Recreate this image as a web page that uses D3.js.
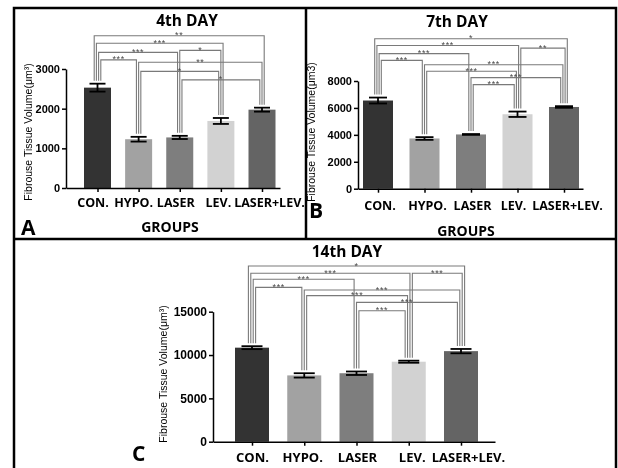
<!DOCTYPE html>
<html>
<head>
<script src="https://d3js.org/d3.v7.min.js"></script>
<style>
  body { margin: 0; background: #fff; }
  svg { filter: grayscale(1); }
</style>
</head>
<body>
<svg width="618" height="468"></svg>
<script>
const groups = ["CON.", "HYPO.", "LASER", "LEV.", "LASER+LEV."];
const barColors = ["#333333", "#a2a2a2", "#7e7e7e", "#d2d2d2", "#646464"];

// 4th day
const day4Mean = [2530, 1230, 1275, 1690, 1975];
const day4Err = [100, 60, 40, 75, 50];
const day4Ticks = [0, 1000, 2000, 3000];
// [from, to, bracket height (data units), stars]
const day4Sig = [
  [0, 4, 3840, "**"],
  [0, 3, 3650, "***"],
  [0, 2, 3420, "***"],
  [2, 3, 3470, "*"],
  [0, 1, 3230, "***"],
  [1, 4, 3170, "**"],
  [1, 3, 2940, "*"],
  [2, 4, 2725, "*"]
];

// 7th day
const day7Mean = [6550, 3730, 4030, 5530, 6070];
const day7Err = [220, 100, 30, 200, 60];
const day7Ticks = [0, 2000, 4000, 6000, 8000];
const day7Sig = [
  [0, 4, 11140, "*"],
  [0, 3, 10640, "***"],
  [3, 4, 10440, "**"],
  [0, 2, 10030, "***"],
  [0, 1, 9530, "***"],
  [1, 4, 9210, "***"],
  [1, 3, 8720, "***"],
  [2, 4, 8250, "***"],
  [2, 3, 7730, "***"]
];

// 14th day
const day14Mean = [10850, 7650, 7900, 9230, 10450];
const day14Err = [170, 250, 200, 120, 250];
const day14Ticks = [0, 5000, 10000, 15000];
const day14Sig = [
  [0, 4, 20270, "*"],
  [0, 3, 19430, "***"],
  [3, 4, 19430, "***"],
  [0, 2, 18740, "***"],
  [0, 1, 17810, "***"],
  [1, 4, 17500, "***"],
  [1, 3, 16850, "***"],
  [2, 4, 16080, "***"],
  [2, 3, 15110, "***"]
];

const svg = d3.select("svg");
const labelFont = "'Open Sans', 'DejaVu Sans', sans-serif";
const axisFont = "'Liberation Sans', Arial, sans-serif";

// panel frames
svg.append("path")
  .attr("d", "M14,468V8H616V468M306,8V239M14,239H616")
  .attr("fill", "none")
  .attr("stroke", "#000")
  .attr("stroke-width", 2.5);

function drawPanel(p) {
  const n = groups.length;
  const step = (p.c1 - p.c0) / (n - 1);
  const span = p.axisR - p.axisL;
  const x = d3.scalePoint()
    .domain(groups)
    .range([p.axisL, p.axisR])
    .padding((span / step - (n - 1)) / 2)
    .align((p.c0 - p.axisL) / (span - (p.c1 - p.c0)));
  const y = d3.scaleLinear()
    .domain([0, d3.max(p.ticks)])
    .range([p.y0, p.yTop]);

  const rows = groups.map((name, i) => ({ name: name, mean: p.mean[i], err: p.err[i], color: barColors[i] }));
  const g = svg.append("g");

  g.selectAll("rect")
    .data(rows)
    .join("rect")
    .attr("x", d => x(d.name) - p.barW / 2)
    .attr("y", d => y(d.mean))
    .attr("width", p.barW)
    .attr("height", d => y(0) - y(d.mean))
    .attr("fill", d => d.color);

  // error bars
  const eb = g.append("g")
    .attr("stroke", "#000")
    .attr("stroke-width", 1.8)
    .selectAll("g")
    .data(rows)
    .join("g");
  eb.append("line")
    .attr("x1", d => x(d.name)).attr("x2", d => x(d.name))
    .attr("y1", d => y(d.mean - d.err)).attr("y2", d => y(d.mean + d.err));
  [-1, 1].forEach(s => {
    eb.append("line")
      .attr("x1", d => x(d.name) - p.capW / 2).attr("x2", d => x(d.name) + p.capW / 2)
      .attr("y1", d => y(d.mean + s * d.err)).attr("y2", d => y(d.mean + s * d.err));
  });

  // significance brackets
  const sig = p.sig.map(s => ({ a: s[0], b: s[1], level: s[2], label: s[3] }));
  groups.forEach((name, i) => {
    const rightEnds = sig.filter(s => s.b === i).sort((u, v) => u.level - v.level);
    const leftEnds = sig.filter(s => s.a === i).sort((u, v) => v.level - u.level);
    const all = rightEnds.map(s => ({ s: s, side: "xb" })).concat(leftEnds.map(s => ({ s: s, side: "xa" })));
    all.forEach((e, k) => { e.s[e.side] = x(name) + (k - (all.length - 1) / 2) * p.gap; });
  });
  const top = i => y(p.mean[i] + p.err[i]) - 3;

  const br = g.append("g");
  br.selectAll("path")
    .data(sig)
    .join("path")
    .attr("d", d => "M" + d.xa + "," + top(d.a) + "V" + y(d.level) + "H" + d.xb + "V" + top(d.b))
    .attr("fill", "none")
    .attr("stroke", "#7a7a7a")
    .attr("stroke-width", 1.1);
  br.selectAll("text")
    .data(sig)
    .join("text")
    .attr("x", d => (d.xa + d.xb) / 2)
    .attr("y", d => y(d.level) + 2.5)
    .attr("text-anchor", "middle")
    .attr("font-family", axisFont)
    .attr("font-size", 9)
    .attr("letter-spacing", 0.6)
    .attr("fill", "#4a4a4a")
    .text(d => d.label);

  // axes
  const yAxis = g.append("g")
    .attr("transform", "translate(" + p.axisL + ",0)")
    .call(d3.axisLeft(y).tickValues(p.ticks).tickFormat(d3.format("d"))
      .tickSize(4).tickPadding(2).tickSizeOuter(0));
  yAxis.selectAll(".domain, .tick line").attr("stroke-width", 1.5);
  yAxis.selectAll("text")
    .attr("font-family", axisFont)
    .attr("font-weight", "bold")
    .attr("font-size", p.tickFont);

  const xAxis = g.append("g")
    .attr("transform", "translate(0," + p.y0 + ")")
    .call(d3.axisBottom(x).tickSize(4).tickPadding(p.labelPad).tickSizeOuter(0));
  xAxis.selectAll(".domain, .tick line").attr("stroke-width", 1.5);
  xAxis.selectAll("text")
    .attr("dx", (d, i) => p.labelShift[i])
    .attr("font-family", labelFont)
    .attr("font-weight", "bold")
    .attr("font-size", p.labelSize);

  // texts
  g.append("text")
    .attr("x", p.titleX).attr("y", p.titleY)
    .attr("text-anchor", "middle")
    .attr("font-family", labelFont).attr("font-weight", "bold").attr("font-size", 15.5)
    .text(p.title);
  if (p.groupsX) {
    g.append("text")
      .attr("x", p.groupsX).attr("y", p.groupsY)
      .attr("text-anchor", "middle")
      .attr("font-family", labelFont).attr("font-weight", "bold").attr("font-size", 14)
      .text("GROUPS");
  }
  g.append("text")
    .attr("x", p.letterX).attr("y", p.letterY)
    .attr("font-family", labelFont).attr("font-weight", "bold").attr("font-size", p.letterFont)
    .text(p.letter);
  g.append("text")
    .attr("transform", "translate(" + p.yLabelX + "," + p.yLabelY + ") rotate(-90)")
    .attr("dy", "0.35em")
    .attr("text-anchor", "middle")
    .attr("font-family", axisFont).attr("font-size", 10.5)
    .text(p.yLabel);
}

drawPanel({
  mean: day4Mean, err: day4Err, ticks: day4Ticks, sig: day4Sig,
  axisL: 66, axisR: 280, c0: 97.5, c1: 262, y0: 188, yTop: 69,
  barW: 27, capW: 16, gap: 2.2, tickFont: 11, labelPad: 6, labelSize: 12.5,
  labelShift: [-5, -5.5, -4.5, -3, 7],
  title: "4th DAY", titleX: 187, titleY: 26,
  groupsX: 170, groupsY: 232,
  letter: "A", letterX: 21, letterY: 235, letterFont: 21,
  yLabel: "Fibrouse Tissue Volume(μm³)", yLabelX: 28, yLabelY: 132
});

drawPanel({
  mean: day7Mean, err: day7Err, ticks: day7Ticks, sig: day7Sig,
  axisL: 358, axisR: 583, c0: 378, c1: 564, y0: 188.7, yTop: 81,
  barW: 30, capW: 18, gap: 2.2, tickFont: 11, labelPad: 8, labelSize: 12.5,
  labelShift: [1.5, 2.5, 1, -4.5, 3],
  title: "7th DAY", titleX: 457, titleY: 27,
  groupsX: 466, groupsY: 236,
  letter: "B", letterX: 309, letterY: 218, letterFont: 21,
  yLabel: "Fibrouse Tissue Volume(μm3)", yLabelX: 311, yLabelY: 132
});

drawPanel({
  mean: day14Mean, err: day14Err, ticks: day14Ticks, sig: day14Sig,
  axisL: 213, axisR: 495, c0: 252, c1: 461, y0: 441.7, yTop: 311.7,
  barW: 34, capW: 21, gap: 2.4, tickFont: 12, labelPad: 7, labelSize: 13,
  labelShift: [0, -2, 0.5, 3, 7],
  title: "14th DAY", titleX: 347, titleY: 257,
  letter: "C", letterX: 132, letterY: 461, letterFont: 21,
  yLabel: "Fibrouse Tissue Volume(μm³)", yLabelX: 163, yLabelY: 374
});
</script>
</body>
</html>
